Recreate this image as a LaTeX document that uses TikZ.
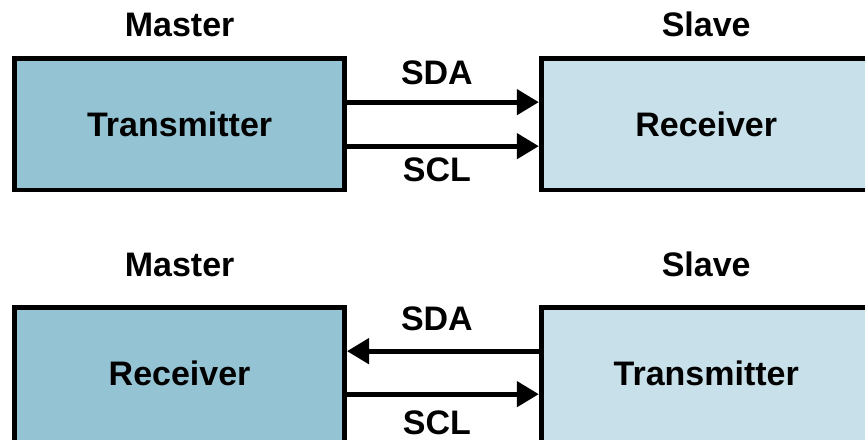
\documentclass[tikz,border=0pt]{standalone}
\usepackage{fontspec}
\setmainfont{Liberation Sans}
\usepackage{tikz}
\usetikzlibrary{arrows.meta}
\usetikzlibrary{positioning}
\definecolor{masterblue}{HTML}{94C4D4}
\definecolor{slaveblue}{HTML}{C8E0EA}
\tikzset{
    master/.style={
           rectangle,
           draw=black, line width=2.4pt,
           fill=masterblue,
           minimum width=165pt,
           minimum height=65.75pt,
           font=\bfseries\fontsize{17pt}{20pt}\selectfont,
           text centered,
           },
}
\tikzset{
    slave/.style={
           master,
           fill=slaveblue,
           },
}
\tikzset{
    tall/.style={
           minimum height=70pt,
           text depth=4pt,
           },
}
\tikzset{
    head/.style={
           inner sep=2pt,
           font=\bfseries\fontsize{17pt}{20pt}\selectfont,
           },
}
\tikzset{
    bus/.style={
           line width=2.4pt,
           -{Triangle[length=11pt,width=12.5pt]},
           },
}
\tikzset{
    sig/.style={
           head,
           xshift=-3pt,
           },
}

\begin{document}
\begin{tikzpicture}[x=0.5pt,y=-0.5pt]
\useasboundingbox (0,0) rectangle (865,439);
% top: master sends
\node[master](tx1) at (179.6,124.3){Transmitter};
\node[slave,right=95.9pt of tx1](rx1){Receiver};
\node[head,above=7.55pt of tx1](m1){Master};
\node[head,above=7.55pt of rx1](s1){Slave};
\draw[bus] ([yshift=-23pt]tx1.north east) -- ([yshift=-23pt]rx1.north west)
      node[sig,midway,above=5.5pt](sda1){SDA};
\draw[bus] ([yshift=-45pt]tx1.north east) -- ([yshift=-45pt]rx1.north west)
      node[sig,midway,below=2.4pt](scl1){SCL};
% bottom: slave sends
\node[master,tall,below=56.35pt of tx1](rx2){Receiver};
\node[slave,tall,right=95.9pt of rx2.north east,anchor=north west](tx2){Transmitter};
\node[head,above=12.05pt of rx2](m2){Master};
\node[head,above=12.05pt of tx2](s2){Slave};
\draw[bus] ([yshift=-23pt]tx2.north west) -- ([yshift=-23pt]rx2.north east)
      node[sig,midway,above=7pt](sda2){SDA};
\draw[bus] ([yshift=-44.5pt]rx2.north east) -- ([yshift=-44.5pt]tx2.north west)
      node[sig,midway,below=5pt](scl2){SCL};
\end{tikzpicture}
\end{document}
